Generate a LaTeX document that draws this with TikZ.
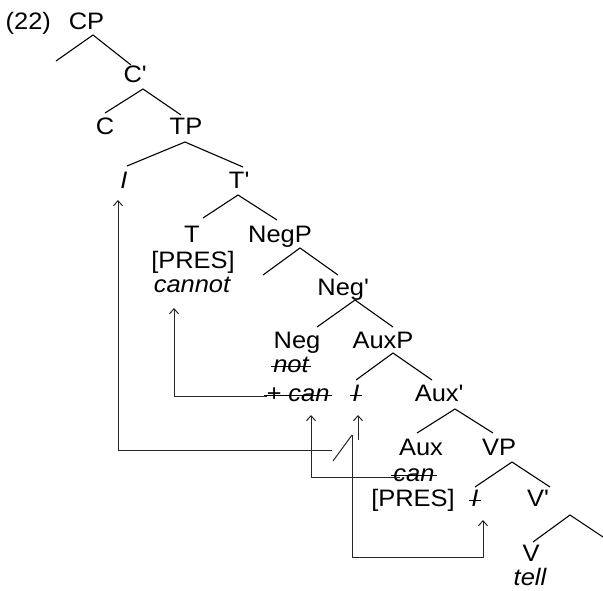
\documentclass[tikz,border=0pt]{standalone}
\usepackage{fontspec}
\setmainfont{Liberation Sans}[FakeStretch=1.07]
\usetikzlibrary{arrows.meta}
\newcommand\strk[1]{\draw[line width=1.2pt] ([xshift=-2pt,yshift=5.5pt]#1.base west) -- ([xshift=2pt,yshift=5.5pt]#1.base east);}
\newcommand\pr{\textquotesingle}
\begin{document}
\begin{tikzpicture}[x=1pt,y=-1pt,
  lbl/.style={anchor=base,inner sep=0pt,font=\fontsize{23.8}{28}\selectfont},
  br/.style={line width=1.1pt},
  mv/.style={line width=1pt,black!85},
  tip/.style={{Straight Barb[length=5pt,width=9pt,line width=1pt]}-}]
\useasboundingbox (0,0) rectangle (603,590);
% labels
\node[lbl,anchor=base west] (ex) at (5.5,29.5) {(22)};
\node[lbl] (CP) at (86.5,29.5) {CP};
\node[lbl] (C1) at (135,82) {C\pr};
\node[lbl] (C) at (105,134) {C};
\node[lbl] (TP) at (186,134) {TP};
\node[lbl] (Isub) at (124,188) {\itshape I};
\node[lbl] (T1) at (239,188) {T\pr};
\node[lbl] (T) at (192,242) {T};
\node[lbl] (NegP) at (280,242) {NegP};
\node[lbl] (pres1) at (193,268) {[PRES]};
\node[lbl] (cannot) at (192,292) {\itshape cannot};
\node[lbl] (Neg1) at (343,295) {Neg\pr};
\node[lbl] (Neg) at (297,348) {Neg};
\node[lbl] (AuxP) at (383,348) {AuxP};
\node[lbl] (not) at (291,372) {\itshape not};
\node[lbl] (pcan) at (298,401) {\itshape + can};
\node[lbl] (Iaux) at (356,401) {\itshape I};
\node[lbl] (Aux1) at (439,401) {Aux\pr};
\node[lbl] (Aux) at (421,455) {Aux};
\node[lbl] (VP) at (499,455) {VP};
\node[lbl] (can) at (414,481) {\itshape can};
\node[lbl] (pres2) at (413,506) {[PRES]};
\node[lbl] (Ivp) at (475,506) {\itshape I};
\node[lbl] (V1) at (538,506) {V\pr};
\node[lbl] (V) at (531,561) {V};
\node[lbl] (tell) at (530,585.5) {\itshape tell};
% strike-throughs
\strk{not}
\strk{pcan}
\strk{Iaux}
\strk{can}
\strk{Ivp}
% tree branches
\coordinate (cpT) at (93,35); \coordinate (cpL) at (56,61); \coordinate (cpR) at (131,65);
\draw[br] (cpL) -- (cpT) -- (cpR);
\coordinate (c1T) at (143,89); \coordinate (c1L) at (105,113); \coordinate (c1R) at (181,115);
\draw[br] (c1L) -- (c1T) -- (c1R);
\coordinate (tpT) at (185,142); \coordinate (tpL) at (127,166); \coordinate (tpR) at (243,167);
\draw[br] (tpL) -- (tpT) -- (tpR);
\coordinate (t1T) at (238,195); \coordinate (t1L) at (203,218); \coordinate (t1R) at (277,220);
\draw[br] (t1L) -- (t1T) -- (t1R);
\coordinate (npT) at (300,248); \coordinate (npL) at (263,275); \coordinate (npR) at (338,275);
\draw[br] (npL) -- (npT) -- (npR);
\coordinate (n1T) at (355,300); \coordinate (n1L) at (317,327); \coordinate (n1R) at (393,327);
\draw[br] (n1L) -- (n1T) -- (n1R);
\coordinate (apT) at (393,353); \coordinate (apL) at (356,380); \coordinate (apR) at (432,380);
\draw[br] (apL) -- (apT) -- (apR);
\coordinate (a1T) at (455,409); \coordinate (a1L) at (417,433); \coordinate (a1R) at (493,433);
\draw[br] (a1L) -- (a1T) -- (a1R);
\coordinate (vpT) at (512,462); \coordinate (vpL) at (475,487); \coordinate (vpR) at (550,487);
\draw[br] (vpL) -- (vpT) -- (vpR);
\coordinate (v1T) at (570,515); \coordinate (v1L) at (533,542); \coordinate (v1R) at (603,537);
\draw[br] (v1L) -- (v1T) -- (v1R);
% movement arrows
\coordinate (aTip) at (118,200); \coordinate (aCor) at (118,450); \coordinate (aEnd) at (332,450);
\draw[mv,tip] (aTip) -- (aCor) -- (aEnd);
\coordinate (sA) at (333,461); \coordinate (sB) at (352,435);
\draw[mv] (sA) -- (sB);
\coordinate (bC1) at (352,557); \coordinate (bC2) at (483,557); \coordinate (bTip) at (483,520);
\draw[mv,tip] (bTip) -- (bC2) -- (bC1) -- (sB);
\coordinate (cTip) at (358,415); \coordinate (cEnd) at (358,440);
\draw[mv,tip] (cTip) -- (cEnd);
\coordinate (dTip) at (174,308); \coordinate (dCor) at (174,396); \coordinate (dEnd) at (267,396);
\draw[mv,tip] (dTip) -- (dCor) -- (dEnd);
\coordinate (eTip) at (311,415); \coordinate (eCor) at (311,477); \coordinate (eEnd) at (400,477);
\draw[mv,tip] (eTip) -- (eCor) -- (eEnd);
\end{tikzpicture}
\end{document}
